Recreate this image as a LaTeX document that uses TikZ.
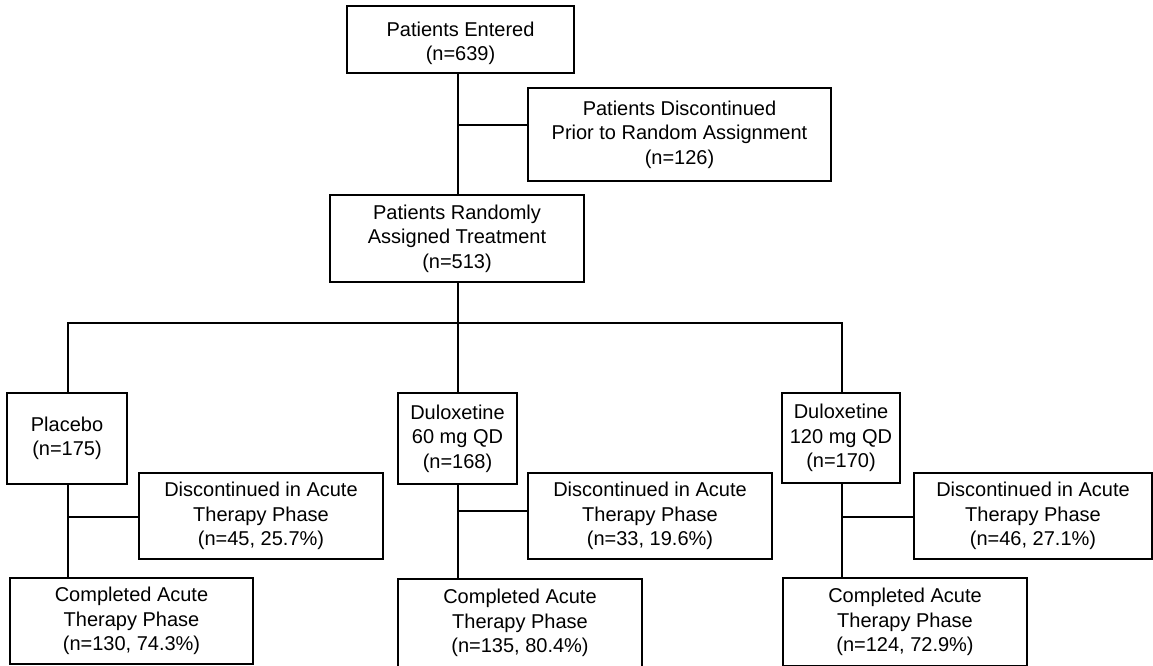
\documentclass[tikz,border=0pt]{standalone}
\usepackage{fontspec}
\setmainfont{Liberation Sans}
\begin{document}
\begin{tikzpicture}[x=1pt,y=-1pt,
  box/.style={draw, line width=1.3pt, inner sep=0pt, align=center,
    font=\fontsize{20}{24.5}\selectfont},
  conn/.style={line width=1.3pt}]
\useasboundingbox (0,0) rectangle (1153,665);
% boxes
\node[box, minimum width=227, minimum height=67] (entered) at (460.5,39.5) {\raisebox{-4pt}[\height][\depth]{\parbox{200pt}{\centering Patients Entered\\(n=639)}}};
\node[box, minimum width=303, minimum height=93] (prior) at (679.5,134.5) {Patients Discontinued\\Prior to Random Assignment\\(n=126)};
\node[box, minimum width=254, minimum height=87] (random) at (457,238.5) {Patients Randomly\\Assigned Treatment\\(n=513)};
\node[box, minimum width=120, minimum height=91] (placebo) at (67,438.5) {Placebo\\(n=175)};
\node[box, minimum width=119, minimum height=91] (d60) at (457.5,438.5) {Duloxetine\\60 mg QD\\(n=168)};
\node[box, minimum width=118, minimum height=90] (d120) at (841,438) {Duloxetine\\120 mg QD\\(n=170)};
\node[box, minimum width=244, minimum height=86] (disc1) at (261,516) {Discontinued in Acute\\Therapy Phase\\(n=45, 25.7\%)};
\node[box, minimum width=244, minimum height=86] (disc2) at (650,516) {Discontinued in Acute\\Therapy Phase\\(n=33, 19.6\%)};
\node[box, minimum width=238, minimum height=86] (disc3) at (1033,516) {Discontinued in Acute\\Therapy Phase\\(n=46, 27.1\%)};
\node[box, minimum width=243, minimum height=86] (comp1) at (131.5,621) {Completed Acute\\Therapy Phase\\(n=130, 74.3\%)};
\node[box, minimum width=244, minimum height=88] (comp2) at (520,623) {Completed Acute\\Therapy Phase\\(n=135, 80.4\%)};
\node[box, minimum width=244, minimum height=88] (comp3) at (905,622) {Completed Acute\\Therapy Phase\\(n=124, 72.9\%)};
% junctions
\coordinate (j0) at (458,125);
\coordinate (bus) at (458,323);
\coordinate (a1) at (68,517);
\coordinate (a2) at (458,511);
\coordinate (a3) at (842,517);
% connectors
\draw[conn] (j0 |- entered.south) -- (j0 |- random.north);
\draw[conn] (j0) -- (j0 -| prior.west);
\draw[conn] (bus |- random.south) -- (bus);
\draw[conn] (a1 |- placebo.north) -- (a1 |- bus) -- (a3 |- bus) -- (a3 |- d120.north);
\draw[conn] (bus) -- (a2 |- d60.north);
\draw[conn] (a1 |- placebo.south) -- (a1 |- comp1.north);
\draw[conn] (a1) -- (a1 -| disc1.west);
\draw[conn] (a2 |- d60.south) -- (a2 |- comp2.north);
\draw[conn] (a2) -- (a2 -| disc2.west);
\draw[conn] (a3 |- d120.south) -- (a3 |- comp3.north);
\draw[conn] (a3) -- (a3 -| disc3.west);
\end{tikzpicture}
\end{document}
